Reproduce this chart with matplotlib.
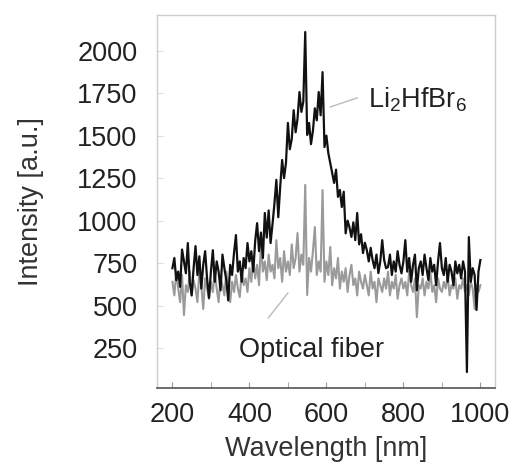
import matplotlib
matplotlib.use("Agg")
import matplotlib.pyplot as plt
import numpy as np

plt.rcParams['font.family'] = ['Liberation Sans', 'DejaVu Sans']
plt.rcParams['mathtext.fontset'] = 'custom'
plt.rcParams['mathtext.rm'] = 'Liberation Sans'
plt.rcParams['mathtext.it'] = 'Liberation Sans'

wavelength_start = 200
wavelength_step = 5

li2hfbr6 = [
    720, 780, 650, 700, 610, 830, 760, 690, 868, 640,
    560, 720, 850, 680, 790, 600, 740, 820, 660, 545,
    700, 826, 640, 760, 700, 590, 800, 720, 650, 530,
    740, 680, 810, 915, 700, 760, 640, 780, 720, 868,
    760, 820, 700, 880, 985, 820, 930, 780, 1045, 900,
    1060, 868, 980, 1100, 1240, 1020, 1200, 1357, 1250, 1340,
    1575, 1420, 1480, 1650, 1520, 1600, 1757, 1640, 1700, 2110,
    1504, 1575, 1450, 1530, 1661, 1590, 1757, 1620, 1874, 1433,
    1500, 1397, 1340, 1280, 1222, 1300, 1140, 1180, 1080, 1170,
    925, 1000, 960, 904, 990, 885, 1045, 860, 920, 809,
    870, 826, 760, 840, 768, 720, 800, 691, 760, 885,
    768, 720, 727, 800, 680, 760, 700, 820, 740, 690,
    760, 885, 700, 780, 640, 740, 800, 590, 720, 760,
    680, 800, 720, 650, 780, 700, 740, 620, 760, 868,
    720, 680, 780, 640, 740, 700, 620, 760, 690, 740,
    660, 760, 700, 109, 903, 640, 720, 680, 474, 700,
    768,
]

optical_fiber = [
    640, 560, 700, 600, 520, 680, 444, 620, 580, 700,
    560, 650, 600, 520, 700, 620, 480, 660, 600, 540,
    640, 580, 700, 600, 520, 660, 620, 560, 700, 600,
    520, 640, 580, 680, 600, 550, 700, 620, 660, 580,
    720, 640, 780, 660, 740, 620, 868, 700, 760, 650,
    800, 700, 740, 660, 885, 720, 780, 640, 820, 700,
    760, 680, 860, 720, 780, 927, 700, 800, 740, 1210,
    562, 780, 700, 820, 962, 680, 760, 700, 1180, 640,
    760, 680, 845, 620, 720, 660, 780, 600, 700, 640,
    720, 580, 680, 740, 620, 660, 560, 700, 640, 600,
    680, 620, 560, 700, 600, 640, 520, 660, 620, 580,
    660, 600, 700, 560, 640, 600, 680, 540, 620, 660,
    600, 640, 560, 700, 620, 580, 660, 432, 620, 600,
    660, 560, 640, 600, 700, 580, 620, 520, 660, 600,
    580, 640, 600, 680, 560, 620, 600, 660, 540, 620,
    600, 660, 580, 620, 560, 640, 600, 480, 620, 580,
    620,
]

x_ticks = [200, 400, 600, 800, 1000]
y_ticks = [250, 500, 750, 1000, 1250, 1500, 1750, 2000]
label_li = r"Li$_\mathregular{2}$HfBr$_\mathregular{6}$"
label_fiber = "Optical fiber"

wl_black = wavelength_start + wavelength_step * np.arange(len(li2hfbr6))
wl_gray = wavelength_start + wavelength_step * np.arange(len(optical_fiber))

fig = plt.figure(figsize=(5.15, 4.62), dpi=100)
ax = fig.add_axes([0.3049, 0.1602, 0.9612 - 0.3049, 0.9675 - 0.1602])

ax.plot(wl_gray, optical_fiber, color='#9a9a9a', lw=1.5)
ax.plot(wl_black, li2hfbr6, color='#111111', lw=1.6)

ax.set_xlim(160, 1038)
ax.set_ylim(15, 2210)
ax.set_xticks(x_ticks)
ax.set_xticks(range(200, 1001, 100), minor=True)
ax.set_yticks(y_ticks)

for s in ['top', 'right', 'left']:
    ax.spines[s].set_color('#cccccc')
    ax.spines[s].set_linewidth(1.0)
ax.spines['bottom'].set_color('#555555')
ax.spines['bottom'].set_linewidth(1.2)

ax.tick_params(axis='x', which='both', direction='in', length=4, color='#999999',
               labelsize=19.5, labelcolor='#222222', pad=10)
ax.tick_params(axis='y', which='both', direction='in', length=4, color='#dddddd',
               labelsize=19.5, labelcolor='#222222', pad=14)

ax.set_xlabel("Wavelength [nm]", fontsize=19.5, color='#333333', labelpad=6)
ax.set_ylabel("Intensity [a.u.]", fontsize=19.5, color='#333333', labelpad=24)

ax.text(708, 1663, label_li, fontsize=19.5, color='#222222', ha='left', va='baseline')
ax.plot([610, 680], [1669, 1722], color='#bbbbbb', lw=1.0)
ax.text(373, 197, label_fiber, fontsize=19.5, color='#222222', ha='left', va='baseline')
ax.plot([449, 500], [427, 574], color='#bbbbbb', lw=1.0)

fig.savefig("out.png", dpi=100)
